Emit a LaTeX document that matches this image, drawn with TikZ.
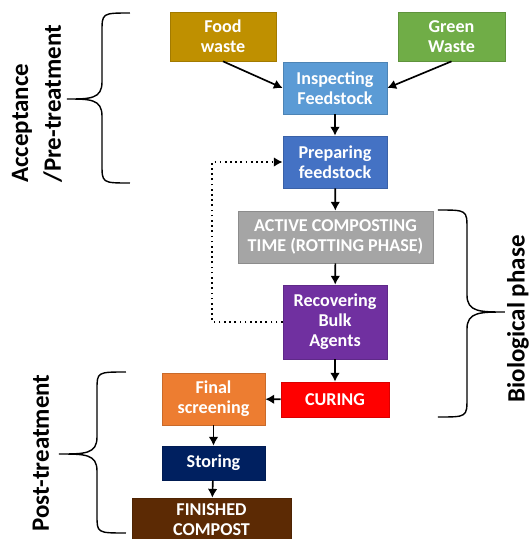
\documentclass[tikz,border=0pt]{standalone}
\usepackage{fontspec}
\setmainfont{Carlito}
\usetikzlibrary{arrows.meta}

\definecolor{foodgold}{HTML}{BF9000}
\definecolor{greenleaf}{HTML}{70AD47}
\definecolor{inspectblue}{HTML}{5B9BD5}
\definecolor{prepareblue}{HTML}{4472C4}
\definecolor{activegrey}{HTML}{A5A5A5}
\definecolor{recoverpurple}{HTML}{7030A0}
\definecolor{curingred}{HTML}{FF0000}
\definecolor{screenorange}{HTML}{ED7D31}
\definecolor{storingnavy}{HTML}{002060}
\definecolor{compostbrown}{HTML}{5C2A04}

\tikzset{
  stepbox/.style={draw=#1!85!black, line width=0.4pt, fill=#1, text=white,
    font=\bfseries\fontsize{10.3}{11.4}\selectfont, align=center, inner sep=0pt},
  flow/.style={-{Latex[length=5pt,width=5.5pt]}, line width=0.95pt},
  phase/.style={rotate=90, font=\bfseries\fontsize{14.2}{18.7}\selectfont,
    align=left, inner sep=0pt},
  bracket/.style={line width=0.8pt}
}

\begin{document}
\begin{tikzpicture}[x=0.02cm, y=-0.02cm]

    % Fix the page size
    \clip (0, 0) rectangle (529, 539);

    % Input boxes
    \node[stepbox=foodgold, minimum width=2.12cm, minimum height=0.98cm] (food) at (223, 36.5) {Food\\waste};
    \node[stepbox=greenleaf, minimum width=2.14cm, minimum height=0.98cm] (green) at (451.5, 36.5) {Green\\Waste};

    % Pre-treatment boxes
    \node[stepbox=inspectblue, minimum width=2.08cm, minimum height=1.04cm] (inspect) at (335, 88) {Inspecting\\Feedstock};
    \node[stepbox=prepareblue, minimum width=2.08cm, minimum height=1.04cm] (prepare) at (335, 162) {Preparing\\feedstock};

    % Biological phase boxes
    \node[stepbox=activegrey, minimum width=3.9cm, minimum height=1.04cm] (active) at (335.5, 237) {ACTIVE COMPOSTING\\TIME (ROTTING PHASE)};
    \node[stepbox=recoverpurple, minimum width=2.08cm, minimum height=1.48cm] (recover) at (335, 322) {Recovering\\Bulk\\Agents};
    \node[stepbox=curingred, minimum width=2.16cm, minimum height=0.7cm] (curing) at (335, 399.5) {CURING};

    % Post-treatment boxes
    \node[stepbox=screenorange, minimum width=2.06cm, minimum height=1.04cm] (screen) at (213.5, 399) {Final\\screening};
    \node[stepbox=storingnavy, minimum width=2.06cm, minimum height=0.68cm] (storing) at (213.5, 463) {Storing};
    \node[stepbox=compostbrown, minimum width=3.18cm, minimum height=0.88cm] (finished) at (211.5, 520) {FINISHED\\COMPOST};

    % Arrows between the steps
    \draw[flow] (food.south) -- (inspect.west);
    \draw[flow] (green.south) -- (inspect.east);
    \draw[flow] (inspect) -- (prepare);
    \draw[flow] (prepare) -- (active);
    \draw[flow] (active) -- (recover);
    \draw[flow] (recover) -- (curing);
    \draw[flow] (curing) -- (screen);
    \draw[flow] (screen) -- (storing);
    \draw[flow] (storing) -- (finished);

    % Bulk agents go back to preparing
    \coordinate (back) at (212, 240);
    \draw[flow, dotted, line width=1pt] (recover.west) -| (back) |- (prepare.west);

    % Brace for acceptance / pre-treatment
    \draw[bracket] (130, 13) .. controls (102, 13) .. (102, 32) -- (102, 82)
        .. controls (102, 99) and (90, 99) .. (67, 99)
        .. controls (90, 99) and (102, 99) .. (102, 116) -- (102, 164)
        .. controls (102, 183) .. (130, 183);
    \node[phase, anchor=west] (acceptlabel) at (37, 183) {Acceptance\\/Pre-treatment};

    % Brace for biological phase
    \draw[bracket] (438, 210) .. controls (467, 210) .. (467, 229) -- (467, 295)
        .. controls (467, 312) and (480, 312) .. (505, 312)
        .. controls (480, 312) and (467, 312) .. (467, 329) -- (467, 398)
        .. controls (467, 417) .. (438, 417);
    \node[phase] (biolabel) at (518, 319) {Biological phase};

    % Brace for post-treatment
    \draw[bracket] (126, 372) .. controls (97, 372) .. (97, 390) -- (97, 437)
        .. controls (97, 454) and (85, 454) .. (59, 454)
        .. controls (85, 454) and (97, 454) .. (97, 471) -- (97, 515)
        .. controls (97, 533) .. (126, 533);
    \node[phase] (postlabel) at (41, 453) {Post-treatment};

\end{tikzpicture}
\end{document}
